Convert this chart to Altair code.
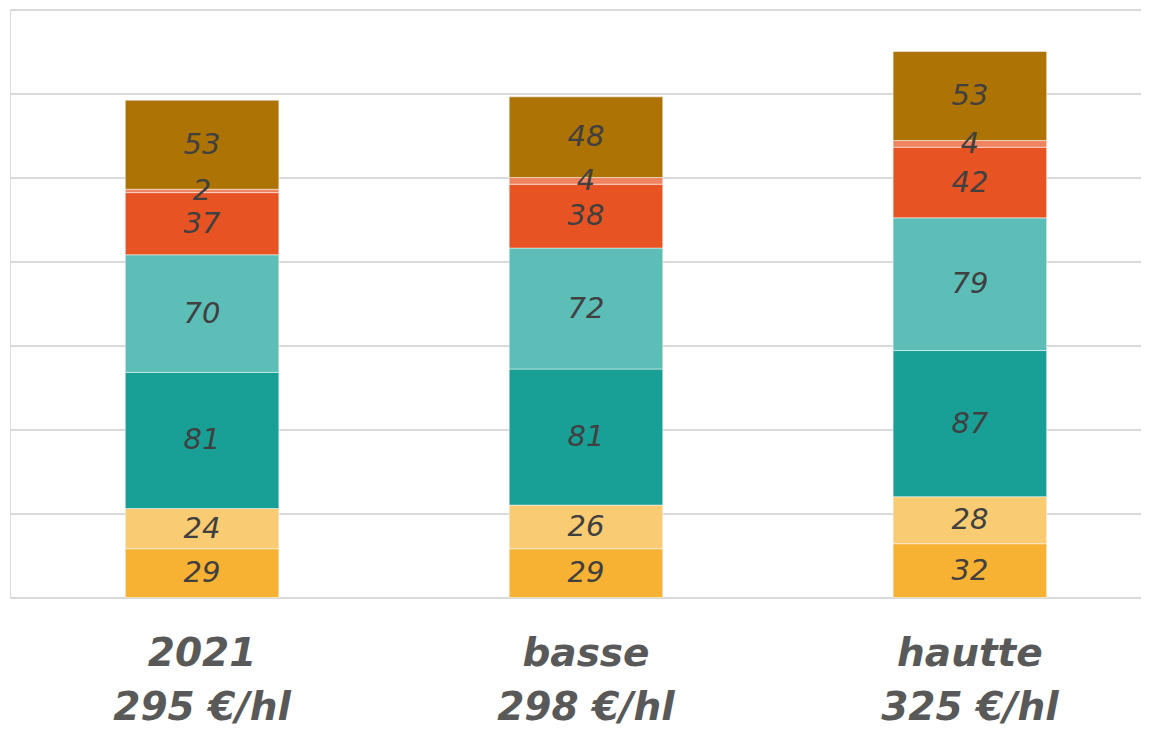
import altair as alt
import pandas as pd

categories = ["2021", "basse", "hautte"]
prices = ["295 €/hl", "298 €/hl", "325 €/hl"]
segments = ["s1", "s2", "s3", "s4", "s5", "s6", "s7"]
colors = ["#F7B133", "#F9CB72", "#18A096", "#5DBDB7", "#E85323", "#F08460", "#AD7305"]
values = {
    "2021":   [29, 24, 81, 70, 37, 2, 53],
    "basse":  [29, 26, 81, 72, 38, 4, 48],
    "hautte": [32, 28, 87, 79, 42, 4, 53],
}

rows = []
for c, p in zip(categories, prices):
    for i, (s, v) in enumerate(zip(segments, values[c])):
        rows.append({"cat": c + "|" + p, "seg": s, "order": i, "value": v})
df = pd.DataFrame(rows)
cat_domain = [c + "|" + p for c, p in zip(categories, prices)]

FONT = "DejaVu Sans"

base = alt.Chart(df).transform_stack(
    stack="value", groupby=["cat"], sort=[alt.SortField("order")], as_=["y0", "y1"]
).transform_calculate(mid="(datum.y0 + datum.y1) / 2")

x_enc = alt.X(
    "cat:N",
    sort=cat_domain,
    scale=alt.Scale(domain=cat_domain, paddingInner=0.6, paddingOuter=0.273, align=0.55),
    axis=alt.Axis(
        title=None, domain=False, ticks=False,
        labelExpr="split(datum.value, '|')",
        labelFont=FONT, labelFontSize=39, labelFontStyle="italic", labelFontWeight="bold",
        labelColor="#595959", labelLineHeight=54, labelPadding=37, labelAngle=0,
    ),
)

bars = base.mark_bar(stroke="white", strokeWidth=0.8, strokeOpacity=0.6).encode(
    x=x_enc,
    y=alt.Y("y0:Q", scale=alt.Scale(domain=[0, 350]),
            axis=alt.Axis(title=None, values=[0, 50, 100, 150, 200, 250, 300, 350],
                          labels=False, ticks=False, domain=False,
                          gridColor="#D9D9D9", gridWidth=2)),
    y2="y1:Q",
    color=alt.Color("seg:N", scale=alt.Scale(domain=segments, range=colors), legend=None),
)

labels = base.mark_text(font=FONT, fontSize=29, fontStyle="italic", color="#404040",
                        baseline="middle", align="center").encode(
    x=alt.X("cat:N", sort=cat_domain),
    y=alt.Y("mid:Q"),
    text=alt.Text("value:Q"),
)

chart = alt.layer(bars, labels).properties(
    width=1131, height=588,
    autosize=alt.AutoSizeParams(type="none"),
    padding={"left": 2, "top": 1.5, "right": 0, "bottom": 130},
).configure_view(stroke=None).configure(background="white")

chart.save("out.html", embed_options={"renderer": "svg", "actions": False})
